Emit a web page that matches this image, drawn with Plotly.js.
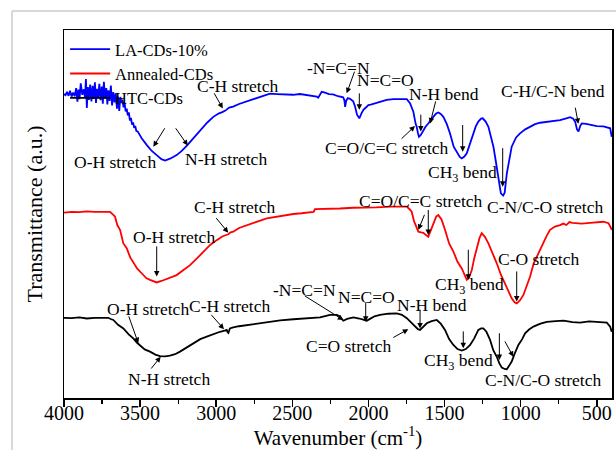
<!DOCTYPE html>
<html>
<head>
<meta charset="utf-8">
<script src="https://cdn.plot.ly/plotly-3.0.1.min.js"></script>
<style>
  html, body { margin: 0; padding: 0; background: #fff; }
  #chart { width: 616px; height: 450px; }
</style>
</head>
<body>
<div id="chart"></div>
<script>
// FTIR spectra, offset vertically (transmittance in arbitrary units)
const seriesNames = ['LA-CDs-10%', 'Annealed-CDs', 'HTC-CDs'];

const laWavenumber = [
  4000, 3990, 3980, 3970, 3960, 3950, 3940, 3930, 3920, 3912, 3905, 3898, 3890, 3880, 3870, 3862,
  3856, 3850, 3843, 3836, 3828, 3820, 3812, 3805, 3797, 3790, 3782, 3775, 3768, 3760, 3752, 3745,
  3738, 3730, 3722, 3715, 3708, 3700, 3692, 3684, 3676, 3668, 3660, 3652, 3645, 3637,
  3630, 3623, 3616, 3609, 3602, 3595, 3588, 3581, 3574, 3567, 3560, 3553, 3546, 3539, 3532, 3525, 3515,
  3490, 3457, 3425, 3391, 3360, 3336, 3300, 3260, 3230, 3194, 3150, 3106, 3060, 3019, 2985, 2960,
  2940, 2915, 2889, 2850, 2800, 2740, 2690, 2647, 2600, 2550, 2495, 2450, 2400, 2363, 2340, 2330,
  2320, 2307, 2285, 2260, 2232, 2200, 2166, 2158, 2153, 2146, 2135, 2121, 2100, 2088, 2075, 2060,
  2045, 2033, 2015, 2001, 1985, 1968, 1945, 1924, 1880, 1836, 1790, 1748, 1727, 1705, 1690, 1683,
  1675, 1668, 1656, 1644, 1625, 1607, 1590, 1574, 1555, 1541, 1525, 1508, 1485, 1464, 1440, 1420,
  1400, 1387, 1370, 1354, 1330, 1311, 1295, 1278, 1260, 1249, 1230, 1212, 1195, 1179, 1162, 1146,
  1130, 1115, 1105, 1091, 1075, 1059, 1030, 1004, 970, 938, 905, 872, 830, 800, 741, 700,
  675, 655, 642, 630, 620, 608, 598, 570, 544, 500, 456, 430, 412, 402
];
const laTransmittance = [
  82.6, 82.3, 83.2, 82.1, 83.5, 81.9, 83.0, 82.0, 84.2, 80.5, 83.8, 81.2, 85.5, 82.4, 83.9, 81.5,
  86.7, 78.8, 84.5, 81.0, 85.2, 80.6, 84.8, 81.3, 85.8, 80.2, 84.0, 81.8, 85.4, 80.9, 84.6, 80.0,
  85.9, 81.4, 84.2, 79.8, 83.6, 80.7, 84.9, 79.5, 83.1, 80.3, 82.8, 78.6, 81.9, 78.0,
  81.8, 80.2, 81.1, 79.0, 80.3, 77.9, 78.6, 76.8, 77.6, 75.4, 76.1, 74.3, 74.9, 73.4, 73.9, 72.6, 72.4,
  70.6, 68.8, 67.2, 66.0, 64.9, 64.5, 65.1, 66.0, 67.0, 68.5, 70.6, 72.8, 74.8, 76.4, 77.3, 77.7,
  78.1, 78.9, 79.2, 79.9, 80.6, 81.5, 82.1, 82.7, 82.6, 82.5, 82.4, 82.6, 82.3, 82.2, 81.9, 81.6,
  82.4, 83.2, 83.0, 82.6, 82.5, 82.0, 81.7, 80.9, 79.1, 80.8, 81.5, 81.3, 80.6, 79.2, 77.0, 76.0,
  77.4, 78.3, 79.0, 79.6, 79.7, 79.9, 80.3, 80.5, 81.0, 81.2, 81.3, 81.2, 80.1, 77.8, 74.5, 73.7,
  72.0, 71.0, 71.5, 72.4, 73.7, 74.6, 75.6, 76.4, 77.3, 77.6, 77.2, 76.4, 74.4, 71.9, 68.3, 66.9,
  65.5, 65.1, 65.6, 66.5, 69.5, 71.9, 73.8, 75.1, 75.9, 76.0, 75.1, 73.7, 71.0, 68.3, 64.0, 60.1,
  55.6, 55.0, 55.8, 61.0, 65.0, 68.3, 70.8, 71.9, 73.0, 73.7, 74.4, 74.8, 75.0, 75.3, 75.5, 76.0,
  76.3, 75.9, 75.1, 73.0, 72.4, 74.0, 74.6, 74.5, 74.2, 73.9, 73.8, 73.6, 73.3, 71.0
];

const annealedWavenumber = [
  4000, 3950, 3900, 3850, 3800, 3740, 3698, 3680, 3665, 3650, 3632, 3610, 3588, 3565, 3545, 3520,
  3490, 3460, 3435, 3410, 3391, 3360, 3325, 3290, 3260, 3215, 3172, 3130, 3085, 3040, 2997, 2960,
  2935, 2920, 2905, 2888, 2850, 2800, 2740, 2668, 2580, 2493, 2440, 2384, 2360, 2351, 2300, 2252,
  2187, 2100, 2033, 1950, 1850, 1748, 1730, 1716, 1700, 1687, 1672, 1655, 1639, 1620, 1607, 1590,
  1574, 1555, 1541, 1520, 1497, 1470, 1442, 1415, 1387, 1370, 1354, 1340, 1321, 1305, 1288, 1270,
  1256, 1235, 1212, 1185, 1157, 1130, 1103, 1080, 1059, 1040, 1026, 1005, 982, 960, 938, 915,
  894, 870, 851, 830, 807, 775, 741, 720, 700, 680, 660, 631, 600, 544, 500, 456, 423, 410, 401
];
const annealedTransmittance = [
  50.4, 50.6, 50.5, 50.7, 50.6, 50.7, 50.6, 49.9, 49.3, 47.0, 45.7, 42.0, 40.7, 38.2, 37.0, 35.2,
  33.9, 32.6, 32.1, 31.6, 31.4, 31.8, 32.3, 32.9, 33.4, 34.8, 36.1, 37.8, 39.8, 41.6, 42.9, 43.9,
  44.3, 44.5, 45.0, 45.2, 46.2, 47.0, 47.8, 48.8, 49.5, 50.0, 50.2, 50.4, 50.6, 51.3, 51.3, 51.3,
  51.5, 51.7, 51.7, 51.8, 52.0, 52.0, 51.3, 50.6, 48.0, 46.5, 45.2, 45.0, 44.9, 44.2, 43.8, 45.6,
  47.5, 49.3, 49.7, 48.5, 45.7, 42.0, 39.8, 37.0, 35.2, 33.5, 32.1, 32.6, 34.8, 38.0, 41.1, 43.5,
  44.8, 43.8, 42.0, 39.4, 36.6, 33.5, 31.2, 29.0, 27.1, 26.0, 25.7, 26.5, 28.0, 30.5, 33.0, 36.5,
  38.4, 40.5, 42.5, 44.0, 45.7, 46.6, 47.0, 47.4, 47.0, 47.8, 47.6, 47.5, 47.4, 47.6, 47.8, 47.9, 47.5, 46.4, 45.7
];

const htcWavenumber = [
  4000, 3950, 3900, 3850, 3800, 3750, 3709, 3690, 3676, 3645, 3610, 3575, 3545, 3520, 3501, 3470,
  3435, 3400, 3369, 3335, 3304, 3270, 3238, 3195, 3150, 3105, 3062, 3020, 2975, 2945, 2931, 2925,
  2920, 2910, 2888, 2850, 2800, 2740, 2668, 2580, 2493, 2400, 2318, 2252, 2208, 2190, 2165, 2140,
  2099, 2060, 2030, 2011, 1990, 1960, 1924, 1870, 1814, 1780, 1748, 1720, 1694, 1675, 1661, 1640,
  1617, 1585, 1551, 1525, 1497, 1470, 1442, 1415, 1387, 1360, 1332, 1305, 1278, 1260, 1245, 1225,
  1201, 1180, 1157, 1140, 1124, 1105, 1091, 1075, 1059, 1040, 1015, 990, 971, 945, 916, 870,
  828, 770, 718, 660, 609, 550, 500, 460, 434, 412, 402
];
const htcTransmittance = [
  21.8, 21.7, 21.9, 21.6, 21.8, 21.7, 21.8, 21.4, 21.2, 19.9, 18.9, 17.3, 16.2, 15.0, 14.4, 13.2,
  12.6, 11.8, 11.4, 11.3, 11.5, 11.9, 12.6, 13.7, 14.9, 16.0, 16.7, 17.4, 18.0, 18.3, 18.5, 17.9,
  17.7, 18.9, 19.2, 19.5, 19.8, 20.3, 20.7, 21.1, 21.4, 21.6, 21.9, 22.6, 22.6, 22.2, 21.0, 21.5,
  21.9, 21.6, 21.1, 21.0, 21.5, 22.2, 22.6, 22.9, 23.0, 22.6, 21.7, 20.5, 19.4, 18.7, 18.5, 19.5,
  20.3, 20.9, 21.2, 20.2, 18.5, 16.0, 14.4, 13.3, 12.9, 13.3, 14.4, 16.2, 18.5, 18.9, 18.9, 18.0,
  15.8, 13.0, 11.2, 9.4, 8.3, 7.9, 7.8, 8.8, 9.9, 12.0, 14.4, 16.0, 17.6, 18.6, 19.4, 20.2,
  20.7, 20.9, 21.0, 20.6, 20.5, 20.8, 20.7, 20.6, 20.5, 19.4, 18.0
];

const xTickValues = [4000, 3500, 3000, 2500, 2000, 1500, 1000, 500];
const xTickLabels = ['4000', '3500', '3000', '2500', '2000', '1500', '1000', '500'];

const serif = 'Liberation Serif, Times New Roman, serif';

const traces = [
  { x: laWavenumber, y: laTransmittance, name: seriesNames[0], color: '#0000ff' },
  { x: annealedWavenumber, y: annealedTransmittance, name: seriesNames[1], color: '#ff0000' },
  { x: htcWavenumber, y: htcTransmittance, name: seriesNames[2], color: '#000000' }
].map(s => ({
  type: 'scatter', mode: 'lines', x: s.x, y: s.y, name: s.name,
  line: { color: s.color, width: 1.8 }
}));

// band assignment labels: [text, wavenumber, transmittance]
const bandLabels = [
  ['O-H stretch', 3668, 64.1], ['N-H stretch', 2936, 64.9], ['C-H stretch', 2857, 84.9],
  ['-N=C=N', 2195, 89.6], ['N=C=O', 1891, 86.4], ['N-H bend', 1503, 82.5],
  ['C=O/C=C stretch', 1880, 67.9], ['CH<sub>3</sub> bend', 1382, 61.1],
  ['C-N/C-O stretch', 840, 52.0], ['C-H/C-N bend', 787, 83.5],
  ['C-H stretch', 2883, 52.0], ['O-H stretch', 3277, 43.8], ['C=O/C=C stretch', 1655, 53.6],
  ['CH<sub>3</sub> bend', 1339, 30.7], ['C-O stretch', 886, 37.8],
  ['O-H stretch', 3451, 24.1], ['C-H stretch', 2916, 25.0], ['N-H stretch', 3307, 5.1],
  ['-N=C=N', 2423, 29.3], ['N=C=O', 2011, 27.5], ['N-H bend', 1584, 25.3],
  ['C=O stretch', 2132, 14.1], ['CH<sub>3</sub> bend', 1411, 9.9], ['C-N/C-O stretch', 856, 4.9]
];

// pointer arrows: [tail wn, tail T, head wn, head T]
const bandArrows = [
  [3332, 73.7, 3413, 68.3], [3273, 73.7, 3187, 68.6], [3019, 83.2, 2957, 78.7],
  [2088, 89.1, 2143, 82.8], [2060, 83.2, 2060, 78.3], [1556, 81.0, 1595, 74.6],
  [1792, 70.1, 1694, 73.9], [1656, 77.4, 1656, 72.4], [1381, 74.6, 1381, 66.9],
  [1118, 68.3, 1118, 57.4], [643, 79.3, 621, 74.5],
  [3008, 49.3, 2921, 44.9], [3391, 41.6, 3391, 33.0], [1628, 50.2, 1672, 45.7],
  [1607, 51.5, 1607, 44.3], [1344, 40.7, 1344, 32.1], [1026, 34.8, 1026, 26.2],
  [3578, 22.6, 3512, 14.9], [3041, 23.0, 2949, 18.7], [3435, 7.6, 3365, 11.2],
  [2428, 28.0, 2165, 21.2], [2018, 26.2, 2018, 20.7], [1661, 24.4, 1661, 18.9],
  [1847, 16.2, 1738, 18.7], [1377, 18.5, 1377, 13.5], [1140, 18.0, 1140, 10.3],
  [1109, 15.8, 1048, 11.2]
];

const annotations = bandLabels.map(([t, x, y]) => ({
  text: t, x: x, y: y, xref: 'x', yref: 'y', showarrow: false,
  xanchor: 'center', yanchor: 'middle',
  font: { family: serif, size: 17.5, color: '#000' }
})).concat(bandArrows.map(([ax, ay, x, y]) => ({
  text: '', x: x, y: y, ax: ax, ay: ay, xref: 'x', yref: 'y', axref: 'x', ayref: 'y',
  showarrow: true, arrowhead: 2, arrowsize: 1.1, arrowwidth: 1, arrowcolor: '#000', standoff: 0
})));

const layout = {
  width: 616, height: 450,
  margin: { l: 64, r: 4, t: 30, b: 52 },
  paper_bgcolor: '#fff', plot_bgcolor: '#fff',
  font: { family: serif, color: '#000' },
  showlegend: true,
  legend: {
    x: 0.002, y: 0.995, xanchor: 'left', yanchor: 'top',
    bgcolor: 'rgba(0,0,0,0)', borderwidth: 0,
    font: { family: serif, size: 16.5, color: '#000' },
    tracegroupgap: 0, itemwidth: 40
  },
  xaxis: {
    range: [4000, 400], autorange: false,
    tickmode: 'array', tickvals: xTickValues, ticktext: xTickLabels,
    ticks: 'outside', ticklen: 7, tickwidth: 1.5, tickcolor: '#000',
    ticklabelstandoff: -11,
    minor: { dtick: 250, ticks: 'outside', ticklen: 4, tickwidth: 1.2, tickcolor: '#000' },
    showline: true, mirror: true, linecolor: '#000', linewidth: 1.5,
    showgrid: false, zeroline: false,
    tickfont: { family: serif, size: 20, color: '#000' },
    title: { text: 'Wavenumber (cm<sup>-1</sup>)', font: { family: serif, size: 21, color: '#000' }, standoff: 0 }
  },
  yaxis: {
    range: [0, 100], autorange: false,
    showticklabels: false, ticks: '',
    showline: true, mirror: true, linecolor: '#000', linewidth: 1.5,
    showgrid: false, zeroline: false,
    title: { text: 'Transmittance (a.u.)', font: { family: serif, size: 22, color: '#000' }, standoff: 14 }
  },
  annotations: annotations,
  shapes: [
    { type: 'line', xref: 'paper', yref: 'paper', x0: -0.0949, x1: -0.0949, y0: -0.145, y1: 1.0516,
      line: { color: '#cccccc', width: 1.5 } },
    { type: 'line', xref: 'paper', yref: 'paper', x0: -0.0949, x1: 1.01, y0: 1.0516, y1: 1.0516,
      line: { color: '#cccccc', width: 1.5 } }
  ]
};

Plotly.newPlot('chart', traces, layout, { displayModeBar: false, staticPlot: true });
</script>
</body>
</html>
